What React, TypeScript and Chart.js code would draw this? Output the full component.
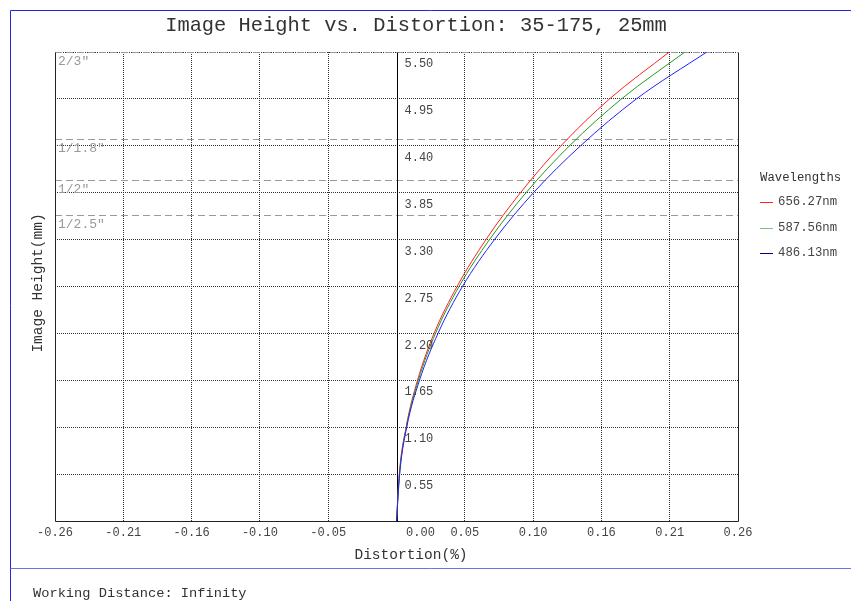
import { useEffect, useRef } from "react";
import { Chart, registerables } from "chart.js";

Chart.register(...registerables);

const chartTitle = "Image Height vs. Distortion: 35-175, 25mm";
const xAxisTitle = "Distortion(%)";
const yAxisTitle = "Image Height(mm)";
const footerText = "Working Distance: Infinity";
const legendTitle = "Wavelengths";

const imageHeights = [0, 0.55, 1.1, 1.65, 2.2, 2.75, 3.3, 3.85, 4.4, 4.95, 5.5];
const distortion656 = [0, 0.0021, 0.0073, 0.016, 0.0286, 0.0461, 0.0681, 0.0944, 0.1252, 0.1622, 0.2077];
const distortion587 = [0, 0.0023, 0.0075, 0.0166, 0.0297, 0.0476, 0.0708, 0.0986, 0.1317, 0.1713, 0.2196];
const distortion486 = [0, 0.0024, 0.0078, 0.0175, 0.0316, 0.0502, 0.0746, 0.1043, 0.1401, 0.1827, 0.2362];

const wavelengthLabels = ["656.27nm", "587.56nm", "486.13nm"];
const curveColors = ["#ff2020", "#209a20", "#2020ff"];
const legendColors = ["#ff2020", "#80c080", "#000090"];

const xTickValues = [-0.26, -0.208, -0.156, -0.104, -0.052, 0, 0.052, 0.104, 0.156, 0.208, 0.26];
const xTickLabels = ["-0.26", "-0.21", "-0.16", "-0.10", "-0.05", "0.00", "0.05", "0.10", "0.16", "0.21", "0.26"];
const yTickValues = [0.55, 1.1, 1.65, 2.2, 2.75, 3.3, 3.85, 4.4, 4.95, 5.5];
const yTickLabels = ["0.55", "1.10", "1.65", "2.20", "2.75", "3.30", "3.85", "4.40", "4.95", "5.50"];

const sensorLabels = ['2/3"', '1/1.8"', '1/2"', '1/2.5"'];
const sensorHeights = [5.5, 4.48, 4.0, 3.59];

const MONO = '"Liberation Mono", "DejaVu Sans Mono", monospace';

export default function App() {
  const ref = useRef<HTMLCanvasElement | null>(null);

  useEffect(() => {
    document.body.style.margin = "0";
    const canvas = ref.current;
    if (!canvas) return;

    const makeData = (arr: number[]) => imageHeights.map((h, i) => ({ x: arr[i], y: h }));

    const underlay = {
      id: "underlay",
      beforeDatasetsDraw(chart: any) {
        const { ctx, chartArea, scales } = chart;
        const xs = scales.x;
        const ys = scales.y;
        ctx.save();
        ctx.strokeStyle = "#9a9a9a";
        ctx.lineWidth = 1;
        ctx.setLineDash([7, 4]);
        sensorHeights.forEach((h) => {
          const py = Math.round(ys.getPixelForValue(h)) + 0.5;
          ctx.beginPath();
          ctx.moveTo(chartArea.left, py);
          ctx.lineTo(chartArea.right, py);
          ctx.stroke();
        });
        ctx.setLineDash([]);
        ctx.strokeStyle = "#222";
        ctx.beginPath();
        const l = Math.round(chartArea.left) + 0.5;
        const r = Math.round(chartArea.right) + 0.5;
        const b = Math.round(chartArea.bottom) + 0.5;
        const t = Math.round(chartArea.top) + 0.5;
        ctx.moveTo(l, t);
        ctx.lineTo(l, b);
        ctx.lineTo(r, b);
        ctx.lineTo(r, t);
        ctx.stroke();
        const zx = Math.round(xs.getPixelForValue(0)) + 0.5;
        ctx.strokeStyle = "#000";
        ctx.beginPath();
        ctx.moveTo(zx, t);
        ctx.lineTo(zx, b);
        ctx.stroke();
        ctx.restore();
      },
    };

    const overlay = {
      id: "overlay",
      afterDraw(chart: any) {
        const { ctx, chartArea, scales } = chart;
        const xs = scales.x;
        const ys = scales.y;
        ctx.save();
        ctx.lineWidth = 1;
        ctx.strokeStyle = "#2525e0";
        ctx.beginPath();
        ctx.moveTo(851, 10.5);
        ctx.lineTo(10.5, 10.5);
        ctx.lineTo(10.5, 601);
        ctx.stroke();
        ctx.strokeStyle = "#6f6fe8";
        ctx.beginPath();
        ctx.moveTo(10.5, 568.5);
        ctx.lineTo(851, 568.5);
        ctx.stroke();

        ctx.fillStyle = "#333";
        ctx.font = `20.4px ${MONO}`;
        ctx.textAlign = "center";
        ctx.textBaseline = "middle";
        ctx.fillText(chartTitle, 416, 26);

        ctx.font = `12px ${MONO}`;
        ctx.fillStyle = "#444";
        xTickValues.forEach((v, i) => {
          let px = xs.getPixelForValue(v);
          if (v === 0) px += 24;
          ctx.fillText(xTickLabels[i], px, chartArea.bottom + 12);
        });

        ctx.textAlign = "left";
        const zx = xs.getPixelForValue(0);
        yTickValues.forEach((v, i) => {
          ctx.fillText(yTickLabels[i], zx + 8, ys.getPixelForValue(v) + 12);
        });

        ctx.font = `13px ${MONO}`;
        ctx.fillStyle = "#999";
        ctx.textBaseline = "top";
        sensorLabels.forEach((s, i) => {
          ctx.fillText(s, chartArea.left + 3, ys.getPixelForValue(sensorHeights[i]) + 3);
        });

        ctx.fillStyle = "#333";
        ctx.font = `14.5px ${MONO}`;
        ctx.textBaseline = "middle";
        ctx.textAlign = "center";
        ctx.fillText(xAxisTitle, 411, 555);
        ctx.save();
        ctx.translate(38, 283);
        ctx.rotate(-Math.PI / 2);
        ctx.fillText(yAxisTitle, 0, 0);
        ctx.restore();

        ctx.font = `12.3px ${MONO}`;
        ctx.textAlign = "left";
        ctx.fillStyle = "#333";
        ctx.fillText(legendTitle, 760, 178);
        chart.data.datasets.forEach((ds: any, i: number) => {
          const y = 202 + i * 25.5;
          ctx.strokeStyle = legendColors[i];
          ctx.lineWidth = 1;
          ctx.beginPath();
          ctx.moveTo(760, Math.round(y) + 0.5);
          ctx.lineTo(773, Math.round(y) + 0.5);
          ctx.stroke();
          ctx.fillStyle = "#444";
          ctx.fillText(ds.label, 778, y);
        });

        ctx.font = `13.7px ${MONO}`;
        ctx.fillStyle = "#333";
        ctx.fillText(footerText, 33, 593);
        ctx.restore();
      },
    };

    const gridColor = (hide: (v: number) => boolean) => (c: any) =>
      c.tick && hide(c.tick.value) ? "rgba(0,0,0,0)" : "#333";

    const chart = new Chart(canvas, {
      type: "line",
      data: {
        datasets: [
          { label: wavelengthLabels[0], data: makeData(distortion656), borderColor: curveColors[0], order: 3 },
          { label: wavelengthLabels[1], data: makeData(distortion587), borderColor: curveColors[1], order: 2 },
          { label: wavelengthLabels[2], data: makeData(distortion486), borderColor: curveColors[2], order: 1 },
        ].map((d) => ({ ...d, borderWidth: 1, pointRadius: 0, cubicInterpolationMode: "monotone", fill: false })),
      },
      options: {
        animation: false,
        responsive: false,
        devicePixelRatio: 1,
        layout: { padding: { left: 55, right: 113, top: 52, bottom: 80 } },
        plugins: { legend: { display: false }, title: { display: false }, tooltip: { enabled: false } },
        scales: {
          x: {
            type: "linear",
            min: -0.26,
            max: 0.26,
            afterBuildTicks: (scale: any) => {
              scale.ticks = xTickValues.map((v) => ({ value: v }));
            },
            ticks: { display: false },
            border: { display: false, dash: [1, 1] },
            grid: {
              drawTicks: false,
              color: gridColor((v) => v === 0 || Math.abs(v) === 0.26),
              lineWidth: 1,
            },
          },
          y: {
            type: "linear",
            min: 0,
            max: 5.5,
            afterBuildTicks: (scale: any) => {
              scale.ticks = [0, ...yTickValues].map((v) => ({ value: v }));
            },
            ticks: { display: false },
            border: { display: false, dash: [1, 1] },
            grid: {
              drawTicks: false,
              color: gridColor((v) => v === 0),
              lineWidth: 1,
            },
          },
        },
      },
      plugins: [underlay, overlay],
    } as any);

    return () => chart.destroy();
  }, []);

  return (
    <div style={{ width: 851, height: 601, background: "#fff" }}>
      <canvas ref={ref} width={851} height={601} style={{ display: "block", width: 851, height: 601 }} />
    </div>
  );
}
